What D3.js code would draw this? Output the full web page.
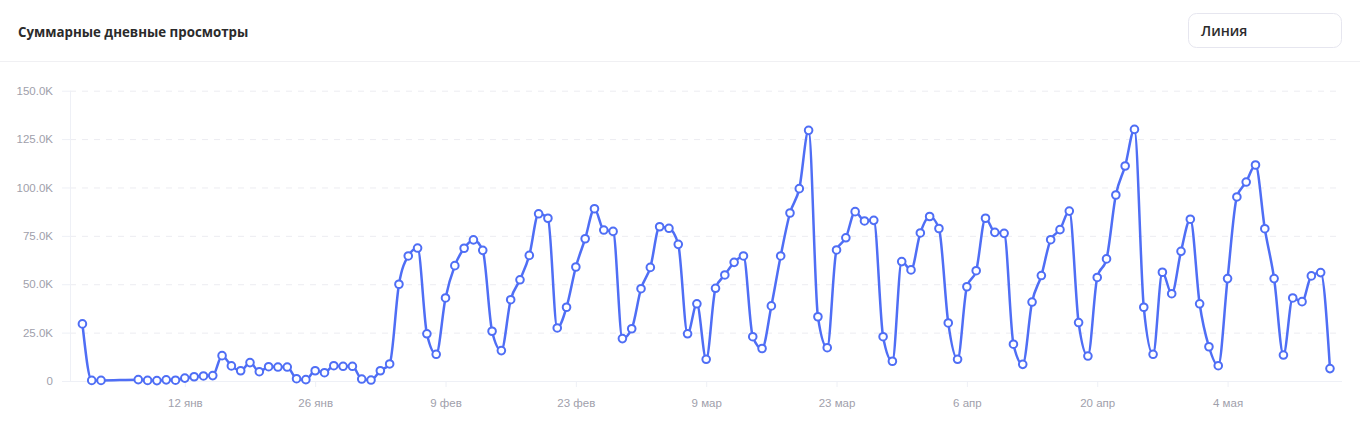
<!DOCTYPE html>
<html>
<head>
<meta charset="utf-8">
<script src="https://cdn.jsdelivr.net/npm/d3@7"></script>
<style>
    body { margin: 0; background: #fff; }
    svg { display: block; }
</style>
</head>
<body>
<div id="chart"></div>
<script>
/**
 * Data.
 */

// first days of january, then a gap (4-6 jan has no data)
var firstDays = ["2025-01-01", "2025-01-02", "2025-01-03"];
var restStart = "2025-01-07";
var restEnd = "2025-05-15";

// daily views, thousands
var viewsJan = [29.5, 0.3, 0.3,
    0.7, 0.3, 0.2, 0.6, 0.4, 1.5, 2.2, 2.6, 2.8, 13.1, 7.8, 5.3, 9.5, 4.8, 7.4, 7.2, 7.2,
    1.2, 0.7, 5.3, 4.3, 7.9, 7.6, 7.6, 1.0];
var viewsFeb = [0.5, 5.3, 8.8, 50.0, 64.6, 68.7, 24.4, 13.8, 42.9, 59.6, 68.6, 72.9, 67.5, 25.7,
    15.7, 42.0, 52.3, 64.9, 86.4, 84.1, 27.4, 38.1, 58.9, 73.5, 89.0, 78.0, 77.3, 21.9];
var viewsMar = [27.0, 47.7, 58.7, 79.7, 78.9, 70.6, 24.4, 39.9, 11.2, 47.9, 54.8, 61.3, 64.6, 22.9,
    16.8, 38.8, 64.6, 86.8, 99.4, 129.5, 33.2, 17.2, 67.7, 74.0, 87.5, 82.7, 83.0, 22.9,
    10.2, 61.7, 57.4];
var viewsApr = [76.5, 85.0, 78.8, 30.0, 11.2, 48.7, 57.0, 84.1, 76.8, 76.3, 19.0, 8.6, 40.8, 54.5,
    73.0, 78.2, 87.8, 30.2, 12.9, 53.5, 63.1, 96.1, 111.1, 130.0, 38.1, 13.8, 56.2, 45.1,
    67.0, 83.6];
var viewsMay = [39.9, 17.7, 7.9, 52.9, 95.1, 102.8, 111.6, 78.7, 52.9, 13.4, 42.9, 41.0, 54.3, 56.0, 6.4];

var tickDates = ["2025-01-12", "2025-01-26", "2025-02-09", "2025-02-23", "2025-03-09",
    "2025-03-23", "2025-04-06", "2025-04-20", "2025-05-04"];
var tickLabels = ["12 янв", "26 янв", "9 фев", "23 фев", "9 мар", "23 мар", "6 апр", "20 апр", "4 мая"];
var yTicks = [0, 25000, 50000, 75000, 100000, 125000, 150000];

{
    var width = 1360;
    var height = 430;

    var plot = {
        left: 70,
        right: 1342,
        top: 90.7,
        bottom: 381
    };

    var parse = d3.utcParse("%Y-%m-%d");

    var dates = firstDays.map(parse)
        .concat(d3.utcDay.range(parse(restStart), d3.utcDay.offset(parse(restEnd), 1)));
    var views = [].concat(viewsJan, viewsFeb, viewsMar, viewsApr, viewsMay);

    var data = dates.map((d, i) => ({ date: d, value: views[i] * 1000 }));

    var svg = d3.select("#chart").append("svg")
        .attr("width", width)
        .attr("height", height);

    // header
    svg.append("text")
        .attr("x", 18)
        .attr("y", 37)
        .attr("fill", "#2b2b2b")
        .style("font-family", "'Open Sans', sans-serif")
        .style("font-weight", 700)
        .style("font-size", "13.3px")
        .text("Суммарные дневные просмотры");

    svg.append("rect")
        .attr("x", 1188.5)
        .attr("y", 13.5)
        .attr("width", 153)
        .attr("height", 34)
        .attr("rx", 8)
        .attr("fill", "#fff")
        .attr("stroke", "#e6e6ef");

    svg.append("text")
        .attr("x", 1201)
        .attr("y", 36)
        .attr("fill", "#2b2b2b")
        .style("font-family", "'Open Sans', sans-serif")
        .style("font-weight", 600)
        .style("font-size", "14px")
        .text("Линия");

    svg.append("line")
        .attr("x1", 0).attr("x2", width)
        .attr("y1", 61.5).attr("y2", 61.5)
        .attr("stroke", "#f0f0f3");

    // scales
    var pad = 1.32; // days of padding each side
    var x = d3.scaleUtc()
        .domain([d3.utcHour.offset(dates[0], -pad * 24), d3.utcHour.offset(dates[dates.length - 1], pad * 24)])
        .range([plot.left, plot.right]);

    var y = d3.scaleLinear()
        .domain([0, 150000])
        .range([plot.bottom, plot.top]);

    var fmt = d => d === 0 ? "0" : (d / 1000).toFixed(1) + "K";

    // y axis + dashed grid
    var gy = svg.append("g")
        .attr("transform", `translate(${plot.left},0)`)
        .call(d3.axisLeft(y).tickValues(yTicks).tickFormat(fmt).tickSize(8).tickPadding(9))
        .call(g => g.select(".domain").remove());

    gy.selectAll(".tick line")
        .attr("stroke", "#eef0f6");

    gy.selectAll(".tick")
        .filter(d => d > 0)
        .append("line")
        .attr("x1", 0)
        .attr("x2", plot.right - plot.left)
        .attr("stroke", "#ececf1")
        .attr("stroke-dasharray", "6,6");

    gy.selectAll("text")
        .attr("fill", "#a0a0ab")
        .style("font-family", "'Liberation Sans', Arial, sans-serif")
        .style("font-size", "11.5px");

    svg.append("line")
        .attr("x1", plot.left + 0.5).attr("x2", plot.left + 0.5)
        .attr("y1", plot.top).attr("y2", plot.bottom)
        .attr("stroke", "#eef0f6");

    // x axis
    var gx = svg.append("g")
        .attr("transform", `translate(0,${plot.bottom})`)
        .call(d3.axisBottom(x)
            .tickValues(tickDates.map(parse))
            .tickFormat((d, i) => tickLabels[i])
            .tickSize(6)
            .tickPadding(12))
        .call(g => g.select(".domain").remove());

    gx.selectAll(".tick line")
        .attr("stroke", "#eef0f6");

    gx.selectAll("text")
        .attr("fill", "#a0a0ab")
        .style("font-family", "'Liberation Sans', Arial, sans-serif")
        .style("font-size", "11.5px");

    svg.append("line")
        .attr("x1", plot.left - 8).attr("x2", plot.right)
        .attr("y1", plot.bottom + 0.5).attr("y2", plot.bottom + 0.5)
        .attr("stroke", "#eef0f6");

    // line
    var line = d3.line()
        .x(d => x(d.date))
        .y(d => y(d.value))
        .curve(d3.curveMonotoneX);

    svg.append("path")
        .datum(data)
        .attr("fill", "none")
        .attr("stroke", "#4f6ef5")
        .attr("stroke-width", 2.5)
        .attr("stroke-linejoin", "round")
        .attr("d", line);

    svg.append("g")
        .selectAll("circle")
        .data(data)
        .enter()
        .append("circle")
        .attr("cx", d => x(d.date))
        .attr("cy", d => y(d.value))
        .attr("r", 3.8)
        .attr("fill", "#fff")
        .attr("stroke", "#4f6ef5")
        .attr("stroke-width", 2);
}
</script>
</body>
</html>
